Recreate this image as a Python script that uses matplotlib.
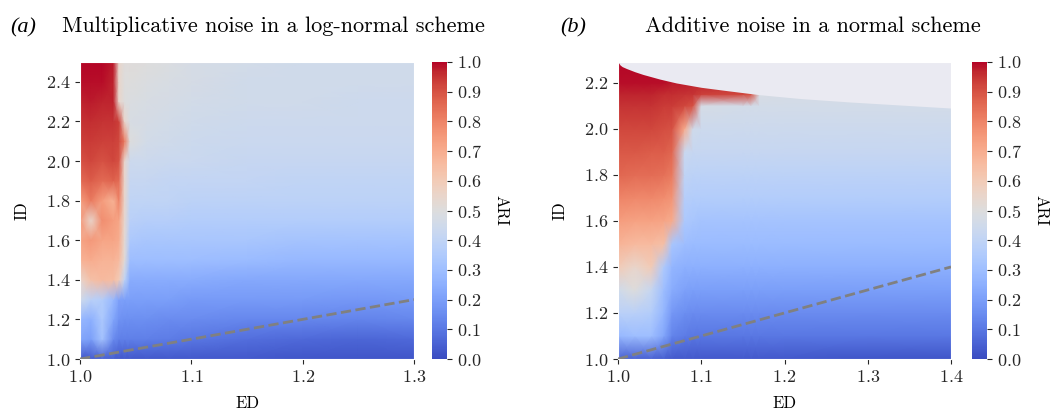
import matplotlib
matplotlib.use("Agg")
import matplotlib.pyplot as plt
import numpy as np

plt.rcParams["font.family"] = "cmr10"
plt.rcParams["axes.formatter.use_mathtext"] = True
plt.rcParams["mathtext.fontset"] = "cm"
plt.rcParams["axes.facecolor"] = "#EAEAF2"
plt.rcParams["axes.edgecolor"] = "white"
plt.rcParams["xtick.color"] = ".15"
plt.rcParams["ytick.color"] = ".15"
plt.rcParams["xtick.major.size"] = 3.5
plt.rcParams["ytick.major.size"] = 3.5

# ---- (a) multiplicative noise, log-normal scheme ----
ed_a = [1.0, 1.01, 1.02, 1.03, 1.035, 1.04, 1.045, 1.06, 1.08, 1.1, 1.15, 1.2, 1.25, 1.3]
id_a = [1.0, 1.1, 1.2, 1.3, 1.4, 1.5, 1.6, 1.7, 1.8, 1.9, 2.0, 2.1, 2.2, 2.3, 2.4, 2.5]
ari_a = [
    [0.03, 0.03, 0.05, 0.04, 0.03, 0.03, 0.03, 0.03, 0.03, 0.03, 0.03, 0.02, 0.02, 0.02],
    [0.22, 0.20, 0.32, 0.15, 0.12, 0.12, 0.12, 0.12, 0.11, 0.10, 0.08, 0.07, 0.06, 0.07],
    [0.28, 0.25, 0.34, 0.22, 0.17, 0.16, 0.16, 0.16, 0.15, 0.15, 0.14, 0.14, 0.13, 0.14],
    [0.45, 0.38, 0.36, 0.28, 0.21, 0.20, 0.20, 0.20, 0.20, 0.19, 0.19, 0.19, 0.18, 0.19],
    [0.55, 0.64, 0.66, 0.65, 0.60, 0.40, 0.24, 0.24, 0.24, 0.24, 0.23, 0.23, 0.23, 0.23],
    [0.68, 0.70, 0.68, 0.68, 0.66, 0.52, 0.30, 0.30, 0.30, 0.30, 0.29, 0.28, 0.28, 0.28],
    [0.72, 0.75, 0.72, 0.72, 0.70, 0.53, 0.34, 0.33, 0.33, 0.33, 0.33, 0.32, 0.32, 0.32],
    [0.75, 0.55, 0.78, 0.74, 0.72, 0.54, 0.38, 0.37, 0.37, 0.36, 0.36, 0.36, 0.36, 0.36],
    [0.74, 0.82, 0.74, 0.68, 0.80, 0.55, 0.40, 0.40, 0.40, 0.39, 0.39, 0.39, 0.39, 0.39],
    [0.85, 0.88, 0.85, 0.87, 0.85, 0.55, 0.42, 0.42, 0.41, 0.41, 0.41, 0.40, 0.40, 0.40],
    [0.90, 0.92, 0.90, 0.92, 0.90, 0.55, 0.44, 0.44, 0.43, 0.43, 0.42, 0.42, 0.42, 0.42],
    [0.93, 0.94, 0.93, 0.93, 0.92, 0.82, 0.50, 0.46, 0.45, 0.44, 0.43, 0.43, 0.43, 0.43],
    [0.95, 0.96, 0.95, 0.95, 0.93, 0.55, 0.48, 0.47, 0.46, 0.45, 0.44, 0.44, 0.44, 0.44],
    [0.97, 0.98, 0.97, 0.97, 0.55, 0.50, 0.49, 0.48, 0.47, 0.46, 0.45, 0.45, 0.44, 0.44],
    [0.99, 0.99, 0.99, 0.97, 0.55, 0.50, 0.50, 0.49, 0.48, 0.47, 0.45, 0.45, 0.45, 0.45],
    [1.00, 1.00, 1.00, 0.98, 0.55, 0.51, 0.51, 0.50, 0.49, 0.47, 0.46, 0.45, 0.45, 0.45],
]

# ---- (b) additive noise, normal scheme ----
ed_b = [1.0, 1.02, 1.04, 1.055, 1.065, 1.08, 1.09, 1.1, 1.15, 1.16, 1.17, 1.2, 1.3, 1.4]
id_b = [1.0, 1.1, 1.2, 1.3, 1.4, 1.5, 1.6, 1.7, 1.8, 1.9, 2.0, 2.1, 2.15, 2.2, 2.3]
ari_b = [
    [0.05, 0.05, 0.05, 0.04, 0.03, 0.03, 0.03, 0.03, 0.03, 0.03, 0.03, 0.03, 0.02, 0.02],
    [0.28, 0.30, 0.30, 0.22, 0.13, 0.11, 0.10, 0.10, 0.10, 0.10, 0.10, 0.10, 0.10, 0.10],
    [0.38, 0.38, 0.36, 0.27, 0.18, 0.16, 0.15, 0.15, 0.15, 0.15, 0.15, 0.15, 0.15, 0.15],
    [0.45, 0.50, 0.42, 0.30, 0.24, 0.21, 0.20, 0.20, 0.20, 0.20, 0.20, 0.20, 0.20, 0.20],
    [0.60, 0.55, 0.60, 0.35, 0.27, 0.25, 0.25, 0.25, 0.25, 0.25, 0.25, 0.25, 0.25, 0.25],
    [0.68, 0.66, 0.66, 0.64, 0.33, 0.30, 0.29, 0.29, 0.29, 0.29, 0.29, 0.29, 0.29, 0.29],
    [0.74, 0.73, 0.73, 0.72, 0.70, 0.34, 0.33, 0.32, 0.32, 0.32, 0.32, 0.32, 0.32, 0.32],
    [0.80, 0.79, 0.79, 0.78, 0.76, 0.37, 0.36, 0.36, 0.36, 0.36, 0.36, 0.36, 0.36, 0.36],
    [0.86, 0.85, 0.85, 0.84, 0.82, 0.40, 0.39, 0.39, 0.39, 0.39, 0.39, 0.39, 0.39, 0.39],
    [0.89, 0.89, 0.88, 0.88, 0.86, 0.43, 0.42, 0.42, 0.42, 0.42, 0.42, 0.42, 0.42, 0.42],
    [0.92, 0.92, 0.92, 0.91, 0.90, 0.70, 0.45, 0.44, 0.44, 0.44, 0.44, 0.44, 0.44, 0.44],
    [0.95, 0.95, 0.95, 0.94, 0.94, 0.92, 0.90, 0.47, 0.46, 0.46, 0.46, 0.46, 0.46, 0.46],
    [0.97, 0.97, 0.97, 0.96, 0.96, 0.95, 0.95, 0.93, 0.92, 0.90, 0.48, 0.47, 0.47, 0.47],
    [0.99, 0.99, 0.99, 0.99, 0.98, 0.98, 0.97, 0.97, 0.96, 0.95, 0.48, 0.47, 0.47, 0.47],
    [1.00, 1.00, 1.00, 1.00, 1.00, 0.99, 0.99, 0.99, 0.98, 0.97, 0.48, 0.47, 0.47, 0.47],
]
# upper edge of the sampled (ED, ID) domain in (b)
edge_ed = [1.0, 1.0025, 1.005, 1.01, 1.02, 1.03, 1.05, 1.07, 1.1, 1.13, 1.17, 1.22, 1.28, 1.34, 1.4]
edge_id = [2.29, 2.277, 2.270, 2.262, 2.248, 2.236, 2.216, 2.199, 2.180, 2.166, 2.148, 2.131, 2.116, 2.103, 2.09]

panels = [
    ("(a)", "Multiplicative noise in a log-normal scheme", ed_a, id_a, ari_a,
     [1.0, 1.1, 1.2, 1.3], [1.0, 1.2, 1.4, 1.6, 1.8, 2.0, 2.2, 2.4], (1.0, 2.5)),
    ("(b)", "Additive noise in a normal scheme", ed_b, id_b, ari_b,
     [1.0, 1.1, 1.2, 1.3, 1.4], [1.0, 1.2, 1.4, 1.6, 1.8, 2.0, 2.2], (1.0, 2.29)),
]

fig = plt.figure(figsize=(10.52, 4.17), dpi=100)
W, H = 1052, 417
ax_px = [(80, 334, 432), (618, 333, 972)]
tag_px = [(10, 62), (560, 645)]

for i, (tag, title, ed, idv, ari, xt, yt, ylim) in enumerate(panels):
    left, width, cleft = ax_px[i]
    ax = fig.add_axes([left / W, (H - 359) / H, width / W, 297 / H])
    cax = fig.add_axes([cleft / W, (H - 359) / H, 15 / W, 297 / H])

    X, Y = np.meshgrid(ed, idv)
    mesh = ax.pcolormesh(X, Y, np.array(ari), shading="gouraud",
                         cmap="coolwarm", vmin=0, vmax=1, rasterized=True)
    if i == 1:
        ax.fill_between(edge_ed, edge_id, 2.4, color="#EAEAF2", lw=0, zorder=2)
    ax.plot([ed[0], ed[-1]], [ed[0], ed[-1]], ls="--", color="gray", lw=2, zorder=3)

    ax.set_xlim(ed[0], ed[-1])
    ax.set_ylim(*ylim)
    ax.set_xticks(xt)
    ax.set_yticks(yt)
    ax.tick_params(labelsize=13)
    ax.set_xlabel("ED", fontsize=12, labelpad=8)
    ax.set_ylabel("ID", fontsize=12, labelpad=12)

    cb = fig.colorbar(mesh, cax=cax, ticks=np.arange(0, 1.01, 0.1))
    cb.outline.set_visible(False)
    cb.ax.tick_params(labelsize=13)
    cb.set_label("ARI", rotation=270, fontsize=12, labelpad=20)

    tx, ttx = tag_px[i]
    fig.text(tx / W, 1 - 32 / H, tag, fontsize=16, family="Liberation Serif",
             style="italic", va="baseline")
    fig.text(ttx / W, 1 - 32 / H, title, fontsize=16, va="baseline")

fig.savefig("out.png", dpi=100)
